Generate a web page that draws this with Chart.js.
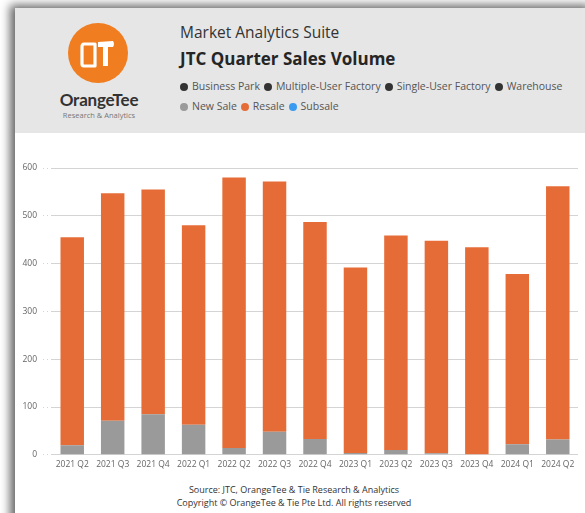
<!DOCTYPE html>
<html>
<head>
<meta charset="utf-8">
<title>JTC Quarter Sales Volume</title>
<script src="https://cdn.jsdelivr.net/npm/chart.js@4/dist/chart.umd.min.js"></script>
<style>
  html, body { margin: 0; padding: 0; background: #fff; width: 585px; height: 513px; overflow: hidden; font-family: "Open Sans", "Noto Sans", sans-serif; }
  #card { position: absolute; left: 15px; top: 8px; width: 580px; height: 520px; background: #fff; box-shadow: -5px -3px 9px rgba(0,0,0,0.6); }
  #head { position: absolute; left: 0; top: 0; width: 580px; height: 125px; background: #e6e6e6; }
  #logo { position: absolute; left: 52px; top: 14px; }
  .brand { position: absolute; left: 30px; width: 108px; text-align: center; }
  #brand1 { top: 81px; font-family: "Lato", sans-serif; font-weight: 700; font-size: 17px; color: #333; letter-spacing: -0.2px; }
  #brand2 { top: 102px; font-size: 7.5px; color: #777; }
  #suite { position: absolute; left: 165px; top: 13px; font-size: 15.5px; color: #333; }
  #title { position: absolute; left: 165px; top: 39px; font-size: 17px; font-weight: 700; color: #252525; }
  .legend { position: absolute; left: 165px; font-size: 10.5px; color: #555; white-space: nowrap; }
  .legend span.dot { display: inline-block; width: 8px; height: 8px; border-radius: 50%; margin-right: 4px; vertical-align: -0.5px; }
  .legend span.item { margin-right: 4px; }
  #leg1 { top: 71px; }
  #leg2 { top: 91px; }
  #wrap { position: absolute; left: 15px; top: 140px; width: 570px; height: 335px; }
  #foot { position: absolute; left: 0; top: 483px; width: 588px; text-align: center; font-size: 9px; color: #333; line-height: 13px; }
</style>
</head>
<body>
<div id="card">
  <div id="head">
    <svg id="logo" width="62" height="62" viewBox="0 0 62 62">
      <circle cx="31" cy="31" r="30" fill="#f07d1f"/>
      <!-- O -->
      <path d="M17 22 L28 22 L28 44 L17 44 Q15 44 15 42 L15 25 Q15 22 17 22 Z" fill="none" stroke="#fff" stroke-width="3.2" stroke-linejoin="round"/>
      <!-- T -->
      <path d="M31 20 L46 19 Q48 22 46 25 L41 25 L41 44 L36 44 L36 25 L31 25 Z" fill="#fff"/>
    </svg>
    <div class="brand" id="brand1">OrangeTee</div>
    <div class="brand" id="brand2">Research &amp; Analytics</div>
    <div id="suite">Market Analytics Suite</div>
    <div id="title">JTC Quarter Sales Volume</div>
    <div class="legend" id="leg1"></div>
    <div class="legend" id="leg2"></div>
  </div>
</div>
<div id="wrap"><canvas id="salesChart"></canvas></div>
<div id="foot">Source: JTC, OrangeTee &amp; Tie Research &amp; Analytics<br>Copyright © OrangeTee &amp; Tie Pte Ltd. All rights reserved</div>

<script>
// quarters on the x axis
const quarters = ['2021 Q2', '2021 Q3', '2021 Q4', '2022 Q1', '2022 Q2', '2022 Q3', '2022 Q4',
                  '2023 Q1', '2023 Q2', '2023 Q3', '2023 Q4', '2024 Q1', '2024 Q2'];
// transactions per sale type
const newSale = [20, 71, 85, 63, 14, 48, 33, 4, 10, 3, 1, 22, 32];
const resale  = [435, 476, 470, 417, 566, 524, 454, 388, 449, 445, 433, 356, 530];
const subsale = [0, 0, 0, 0, 0, 0, 0, 0, 0, 0, 0, 0, 0];

const yTicks = [0, 100, 200, 300, 400, 500, 600];

const propertyTypes = ['Business Park', 'Multiple-User Factory', 'Single-User Factory', 'Warehouse'];
const saleTypes = [
    { name: 'New Sale', color: '#9a9a9a' },
    { name: 'Resale', color: '#e66c37' },
    { name: 'Subsale', color: '#3a9cf0' }
];

// legend rows in the header
function buildLegend(el, items) {
    el.innerHTML = items.map(it =>
        `<span class="item"><span class="dot" style="background:${it.color}"></span>${it.name}</span>`
    ).join('');
}
buildLegend(document.getElementById('leg1'), propertyTypes.map(p => ({ name: p, color: '#333' })));
buildLegend(document.getElementById('leg2'), saleTypes);

const gridColor = '#d4d4d4';
const tickFont = { family: 'Open Sans', size: 8.5 };

new Chart(document.getElementById('salesChart'), {
    type: 'bar',
    data: {
        labels: quarters,
        datasets: [
            { label: 'New Sale', data: newSale, backgroundColor: saleTypes[0].color },
            { label: 'Resale', data: resale, backgroundColor: saleTypes[1].color },
            { label: 'Subsale', data: subsale, backgroundColor: saleTypes[2].color }
        ]
    },
    options: {
        responsive: true,
        maintainAspectRatio: false,
        animation: false,
        datasets: { bar: { categoryPercentage: 1, barPercentage: 0.58 } },
        layout: { padding: { top: 28, right: 7, left: 0, bottom: 0 } },
        plugins: {
            legend: { display: false },
            tooltip: { enabled: false }
        },
        scales: {
            x: {
                stacked: true,
                grid: { display: false, drawTicks: false },
                border: { display: false },
                ticks: {
                    color: '#666',
                    padding: 5,
                    maxRotation: 0,
                    autoSkip: false,
                    font: tickFont
                }
            },
            y: {
                stacked: true,
                min: 0,
                max: 600,
                afterFit: s => { s.width = 37; },
                afterBuildTicks: s => { s.ticks = yTicks.map(v => ({ value: v })); },
                border: { display: false },
                grid: {
                    color: gridColor,
                    lineWidth: 1,
                    borderDash: [1, 3],
                    tickLength: 9,
                    tickBorderDash: [1, 3],
                    tickColor: gridColor
                },
                ticks: {
                    color: '#666',
                    padding: 6,
                    font: tickFont
                }
            }
        }
    }
});
</script>
</body>
</html>
